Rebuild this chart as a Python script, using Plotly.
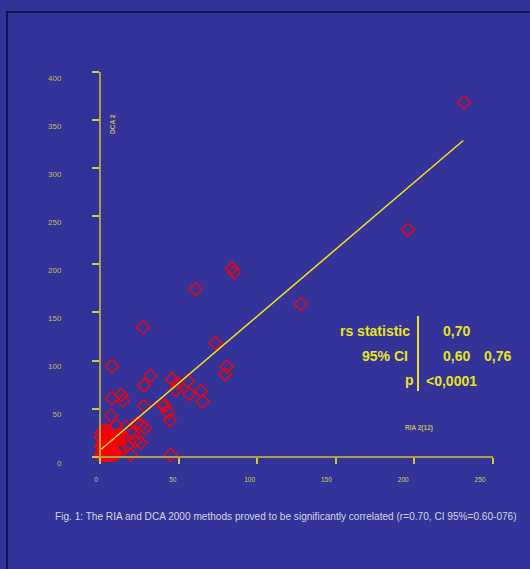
import plotly.graph_objects as go

# ---------------- data ----------------
ria = [231.6, 195.9, 127.7, 60.9, 83.8, 85.4, 73.6, 27.4, 7.6, 80.6, 79.5, 32.0,
       28.0, 45.8, 49.6, 55.8, 48.3, 56.8, 64.2, 65.3, 39.2, 41.3, 43.4, 44.5,
       45.0, 13.5, 7.6, 14.6, 28.0, 7.2, 10.4, 19.5, 26.3, 28.4, 25.9, 19.5,
       13.4, 16.5, 21.0, 23.5, 15.3, 11.5, 22.5, 17.5,
       # dense cluster near the origin
       1.0, 1.5, 2.0, 2.5, 3.0, 3.5, 4.0, 4.5, 5.0, 5.5, 6.0, 6.5, 7.0, 7.5, 8.0,
       8.5, 9.0, 10.0, 11.0, 12.0, 1.0, 2.0, 3.0, 4.0, 5.0, 6.0, 7.0, 8.0, 9.0,
       1.5, 2.5, 3.5, 4.5, 5.5, 6.5, 2.0, 3.0, 4.0, 5.0, 1.0, 2.0, 3.0, 0.8, 1.2,
       2.2, 3.2, 4.2, 6.2, 8.2, 10.5, 12.5, 14.0, 9.5, 11.5, 3.8, 5.8, 7.8, 0.6,
       1.8, 2.8]
dca = [368.4, 235.9, 158.9, 174.2, 196.0, 191.9, 118.0, 134.7, 94.4, 93.7, 85.7, 84.3,
       74.3, 80.5, 76.4, 78.8, 69.4, 65.2, 68.4, 57.2, 54.8, 53.1, 45.8, 38.2,
       1.8, 64.2, 60.8, 58.3, 52.8, 42.7, 32.3, 27.1, 33.0, 29.6, 14.6, 1.8,
       23.0, 30.5, 24.0, 35.0, 19.0, 21.5, 16.0, 12.0,
       3.0, 5.0, 4.0, 7.0, 6.0, 9.0, 8.0, 10.0, 11.0, 9.5, 12.0, 13.0, 12.5, 14.5, 15.0,
       13.5, 17.0, 18.0, 16.5, 20.0, 10.0, 12.0, 14.0, 16.0, 18.0, 19.5, 8.0, 5.5, 6.5,
       2.0, 3.5, 2.5, 4.5, 3.0, 5.0, 18.0, 22.0, 24.5, 21.0, 25.0, 27.0, 1.5, 1.0, 11.0,
       15.5, 7.5, 1.0, 2.0, 2.5, 3.0, 7.0, 9.0, 4.0, 23.0, 27.5, 26.0, 0.5,
       20.0, 13.0]
fit_x = [0.8, 231.1]
fit_y = [7.7, 328.8]

x_ticks = [0, 50, 100, 150, 200, 250]
y_ticks = [0, 50, 100, 150, 200, 250, 300, 350, 400]
caption = ("Fig. 1: The RIA and DCA 2000 methods proved to be significantly "
           "correlated (r=0.70, CI 95%=0.60-076)")

# ---------------- layout helpers ----------------
W, H = 530, 569
L, R, T, B = 93, 37, 72, 107
PW, PH = W - L - R, H - T - B


def fx(px):
    return (px - L) / PW


def fy(py):
    return (H - B - py) / PH


BG = "#333399"
AXIS = "#a8a048"
TICK = "#cfc83a"
LABEL = "#c4bc5c"
YEL = "#e8e41c"
FONT = "Arial, Liberation Sans, sans-serif"

fig = go.Figure()
fig.add_trace(go.Scatter(
    x=ria, y=dca, mode="markers",
    marker=dict(symbol="diamond-open", size=10, color="#ff0000",
                line=dict(width=1.3, color="#ff0000")),
    showlegend=False, hoverinfo="skip"))
fig.add_trace(go.Scatter(
    x=fit_x, y=fit_y, mode="lines", line=dict(color="#f2e41a", width=1.5),
    showlegend=False, hoverinfo="skip"))
# invisible trace to activate the label axis
fig.add_trace(go.Scatter(x=[0], y=[0], xaxis="x2", mode="markers",
                         marker=dict(opacity=0), showlegend=False,
                         hoverinfo="skip"))

fig.update_layout(
    width=W, height=H,
    margin=dict(l=L, r=R, t=T, b=B),
    paper_bgcolor=BG, plot_bgcolor=BG,
    font=dict(family=FONT),
    xaxis=dict(range=[-4.45, 250], domain=[0, 1], anchor="free", position=fy(456.7),
               showgrid=False, zeroline=False, showline=True, linecolor=AXIS,
               linewidth=2, ticks="outside", ticklen=6, tickwidth=2, tickcolor=TICK,
               tickvals=x_ticks, showticklabels=False),
    xaxis2=dict(range=[-1.95, 258.46], overlaying="x", anchor="free",
                position=fy(456.7), side="bottom", showgrid=False, zeroline=False,
                showline=False, ticks="", tickvals=x_ticks,
                ticktext=[str(v) for v in x_ticks],
                tickfont=dict(size=6.5, color="#d8d060", family="Arial Black, " + FONT),
                ticklabelstandoff=18),
    yaxis=dict(range=[-5.5, 400], domain=[0, 1], anchor="free", position=fx(100),
               showgrid=False, zeroline=False, showline=True, linecolor=AXIS,
               linewidth=2, ticks="outside", ticklen=7, tickwidth=2, tickcolor=TICK,
               tickvals=y_ticks, ticktext=[str(v) for v in y_ticks],
               tickfont=dict(size=8, color=LABEL),
               ticklabelstandoff=29, ticklabelshift=6),
)

ann = []


def txt(s, px, py, size, color, anchor="center", bold=True, angle=0):
    ann.append(dict(text=("<b>%s</b>" % s) if bold else s, x=fx(px), y=fy(py),
                    xref="paper", yref="paper", xanchor=anchor, yanchor="middle",
                    showarrow=False, textangle=angle,
                    font=dict(size=size, color=color, family=FONT)))


txt("DCA 2", 113, 124, 6.5, LABEL, angle=-90)
txt("RIA 2(12)", 419, 428, 6.5, LABEL)
txt("rs statistic", 412, 331, 14, YEL, anchor="right")
txt("0,70", 441, 331, 14, YEL, anchor="left")
txt("95% CI", 409.5, 356, 14, YEL, anchor="right")
txt("0,60", 441, 356, 14, YEL, anchor="left")
txt("0,76", 482, 356, 14, YEL, anchor="left")
txt("p", 416, 380, 14, YEL, anchor="right")
txt("&lt;0,0001", 424, 381, 14, YEL, anchor="left")
txt(caption, 53, 516, 10.1, "#d4d4e4", anchor="left", bold=False)
fig.update_layout(annotations=ann)

fig.update_layout(shapes=[
    dict(type="line", xref="paper", yref="paper", x0=fx(418), x1=fx(418),
         y0=fy(316), y1=fy(391), line=dict(color=YEL, width=2)),
    dict(type="rect", xref="paper", yref="paper", x0=fx(7), x1=fx(545),
         y0=fy(12), y1=fy(585), line=dict(color="#14144a", width=2),
         fillcolor="rgba(0,0,0,0)", layer="below"),
])

fig.write_html(
    "out.html",
    config={"displayModeBar": False},
    post_script="document.body.style.margin='0';"
                "document.body.style.background='%s';" % BG,
)
